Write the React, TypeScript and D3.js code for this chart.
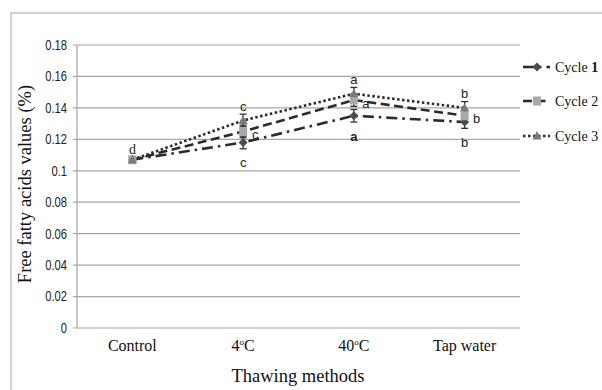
import React from 'react';
import * as d3 from 'd3';

// Thawing method categories on the x axis
const categories = ['Control', '4°C', '40°C', 'Tap water'];
const categoryLabels = [['Control'], ['4', 'o', 'C'], ['40', 'o', 'C'], ['Tap water']];

// Free fatty acid values (%) per cycle
const cycle1 = [0.107, 0.118, 0.135, 0.131];
const cycle2 = [0.107, 0.125, 0.145, 0.135];
const cycle3 = [0.107, 0.132, 0.149, 0.14];
const errors1 = [0.002, 0.004, 0.004, 0.004];
const errors2 = [0.002, 0.004, 0.004, 0.004];
const errors3 = [0.002, 0.004, 0.004, 0.004];

const yTicks = [0, 0.02, 0.04, 0.06, 0.08, 0.1, 0.12, 0.14, 0.16, 0.18];

// significance letters: category index, which series it sits by, where, letter
const letters: { cat: number; series: number; pos: 'above' | 'right' | 'below'; text: string; bold?: boolean }[] = [
  { cat: 0, series: 2, pos: 'above', text: 'd' },
  { cat: 1, series: 2, pos: 'above', text: 'c' },
  { cat: 1, series: 1, pos: 'right', text: 'c' },
  { cat: 1, series: 0, pos: 'below', text: 'c' },
  { cat: 2, series: 2, pos: 'above', text: 'a' },
  { cat: 2, series: 1, pos: 'right', text: 'a' },
  { cat: 2, series: 0, pos: 'below', text: 'a', bold: true },
  { cat: 3, series: 2, pos: 'above', text: 'b' },
  { cat: 3, series: 1, pos: 'right', text: 'b' },
  { cat: 3, series: 0, pos: 'below', text: 'b' },
];

const series = [
  { name: 'Cycle ', num: '1', values: cycle1, errors: errors1, dash: '11,5,2.5,5', marker: 'diamond', fill: '#4d4d4d' },
  { name: 'Cycle ', num: '2', values: cycle2, errors: errors2, dash: '9,4.5', marker: 'square', fill: '#a9a9a9' },
  { name: 'Cycle ', num: '3', values: cycle3, errors: errors3, dash: '2.5,2.5', marker: 'triangle', fill: '#7a7a7a' },
];

const W = 602;
const H = 390;
const serif = '"Liberation Serif", "Times New Roman", serif';
const sans = '"Liberation Sans", Arial, sans-serif';

const x = d3.scaleBand<string>().domain(categories).range([77, 520]).padding(0);
const cx = (c: string) => (x(c) ?? 0) + x.bandwidth() / 2;
const y = d3.scaleLinear().domain([0, 0.18]).range([328, 45]);

const Marker = ({ type, px, py, fill }: { type: string; px: number; py: number; fill: string }) => {
  if (type === 'diamond') {
    return <path d={`M${px},${py - 4.5}L${px + 4.5},${py}L${px},${py + 4.5}L${px - 4.5},${py}Z`} fill={fill} />;
  }
  if (type === 'square') {
    return <rect x={px - 4} y={py - 4.5} width={8} height={9} fill={fill} />;
  }
  return <path d={`M${px},${py - 5}L${px + 4.5},${py + 3.5}L${px - 4.5},${py + 3.5}Z`} fill={fill} />;
};

export default function App() {
  const line = d3.line<number>()
    .x((_, i) => cx(categories[i]))
    .y(d => y(d));

  const legendY = [67, 101, 136];

  return (
    <div style={{ position: 'fixed', left: 0, top: 0 }}>
      <svg width={W} height={H} style={{ display: 'block', background: '#fff' }}>
        {/* outer frame */}
        <rect x={11} y={13} width={620} height={400} fill="none" stroke="#c4c4c4" strokeWidth={1.5} />

        {/* gridlines */}
        {yTicks.map(t => (
          <g key={t}>
            <line x1={73} x2={520} y1={y(t)} y2={y(t)} stroke="#a6a6a6" strokeWidth={1.2} />
            {/* tick labels are a condensed face in the original */}
            <text transform={`translate(67,${y(t)}) scale(0.8,1)`} dy="0.35em" textAnchor="end"
              fontFamily={sans} fontSize={14} fill="#222">
              {t}
            </text>
          </g>
        ))}
        <line x1={77} x2={77} y1={y(0.18)} y2={y(0)} stroke="#a6a6a6" strokeWidth={1.2} />

        {/* category labels */}
        {categories.map((c, i) => (
          <text key={c} x={cx(c)} y={351} textAnchor="middle" fontFamily={serif} fontSize={16} fill="#111">
            {categoryLabels[i].length === 1 ? categoryLabels[i][0] : (
              <>
                {categoryLabels[i][0]}
                <tspan fontSize={9} dy={-6}>{categoryLabels[i][1]}</tspan>
                <tspan dy={6}>{categoryLabels[i][2]}</tspan>
              </>
            )}
          </text>
        ))}

        {/* axis titles */}
        <text x={298} y={382} textAnchor="middle" fontFamily={serif} fontSize={18.5} fill="#111">Thawing methods</text>
        <text transform="translate(31,184) rotate(-90)" textAnchor="middle" fontFamily={serif} fontSize={18.5} fill="#111">
          Free fatty acids values (%)
        </text>

        {/* lines */}
        {series.map(s => (
          <path key={s.num} d={line(s.values) ?? ''} fill="none" stroke="#2b2b2b" strokeWidth={2.6} strokeDasharray={s.dash} />
        ))}

        {/* error bars */}
        {series.map(s => s.values.map((v, i) => {
          const px = cx(categories[i]);
          const top = y(v + s.errors[i]);
          const bot = y(v - s.errors[i]);
          return (
            <g key={s.num + i} stroke="#333" strokeWidth={1.3}>
              <line x1={px} x2={px} y1={top} y2={bot} />
              <line x1={px - 3.5} x2={px + 3.5} y1={top} y2={top} />
              <line x1={px - 3.5} x2={px + 3.5} y1={bot} y2={bot} />
            </g>
          );
        }))}

        {/* markers */}
        {series.map(s => s.values.map((v, i) => (
          <Marker key={s.num + i} type={s.marker} px={cx(categories[i])} py={y(v)} fill={s.fill} />
        )))}

        {/* significance letters */}
        {letters.map((l, k) => {
          const s = series[l.series];
          const px = cx(categories[l.cat]);
          const v = s.values[l.cat];
          let tx = px;
          let ty = y(v);
          if (l.pos === 'above') ty = y(v + s.errors[l.cat]) - 8;
          if (l.pos === 'below') ty = y(v - s.errors[l.cat]) + 14;
          if (l.pos === 'right') { tx = px + 12; ty = y(v) + 3; }
          const isD = l.text === 'd';
          return (
            <text key={k} x={tx} y={ty} dy="0.35em" textAnchor="middle"
              fontFamily={isD ? serif : sans} fontSize={isD ? 14 : 13}
              fontWeight={l.bold ? 'bold' : 'normal'} fill="#222">
              {l.text}
            </text>
          );
        })}

        {/* legend */}
        {series.map((s, i) => (
          <g key={s.num}>
            <line x1={523} x2={550} y1={legendY[i]} y2={legendY[i]} stroke="#2b2b2b" strokeWidth={2.6} strokeDasharray={s.dash} />
            <Marker type={s.marker} px={537} py={legendY[i]} fill={s.fill} />
            <text x={555} y={legendY[i]} dy="0.35em" fontFamily={serif} fontSize={14} fill="#111">
              {s.name}
              <tspan fontWeight={s.num === '1' ? 'bold' : 'normal'}>{s.num}</tspan>
            </text>
          </g>
        ))}
      </svg>
    </div>
  );
}
